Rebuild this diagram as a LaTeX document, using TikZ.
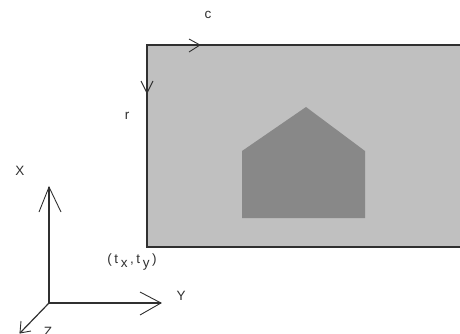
\documentclass[tikz,border=0pt]{standalone}
\usepackage{fontspec}
\setmainfont{Liberation Sans}
\definecolor{plate}{HTML}{C0C0C0}
\definecolor{house}{HTML}{888888}
\definecolor{ink}{HTML}{303030}
\newcommand{\gp}{\hspace{2.6pt}}
\begin{document}
\begin{tikzpicture}[x=1pt,y=-1pt,
  lbl/.style={font=\fontsize{13.5}{15}\selectfont,text=ink,inner sep=0pt},
  edge/.style={draw=ink,line width=1.3pt},
  axis/.style={draw=ink,line width=1.2pt},
  arm/.style={draw=ink,line width=0.9pt}]
\useasboundingbox (0,0) rectangle (460,334);
\begin{scope}
\clip (0,0) rectangle (460,334);
% image plate
\fill[plate] (147,45) rectangle (470,247);
\draw[edge] (470,45) -- (147,45) -- (147,247) -- (470,247);
% house
\fill[house] (242,218) -- (242,151) -- (306,107) -- (365,151) -- (365,218) -- cycle;
% chevrons on plate edges
\coordinate (ctip) at (200,45);
\coordinate (rtip) at (147,93);
\draw[arm] (189,39) -- (ctip) -- (189,52);
\draw[arm] (141,81) -- (rtip) -- (153,81);
% axes
\coordinate (O) at (49,303);
\coordinate (Xt) at (49,187);
\coordinate (Yt) at (161,303);
\coordinate (Zt) at (20,333);
\draw[axis] (O) -- (Xt);
\draw[axis] (O) -- (Yt);
\draw[axis] (O) -- (Zt);
\draw[arm] (39,212) -- (Xt) -- (61,212);
\draw[arm] (140,292) -- (Yt) -- (140,315);
\draw[arm] (21,321) -- (Zt) -- (31,331);
% labels
\node[lbl] (c) at (208,15) {c};
\node[lbl] (r) at (127,116) {r};
\node[lbl] (X) at (20,171) {X};
\node[lbl] (Y) at (181,296) {Y};
\node[lbl,anchor=north] (Z) at (48,327) {Z};
\node[lbl] (t) at (132,262) {(\gp t\gp\raisebox{-3.5pt}{x}\gp,\gp t\gp\raisebox{-3.5pt}{y}\gp)};
\end{scope}
\end{tikzpicture}
\end{document}
